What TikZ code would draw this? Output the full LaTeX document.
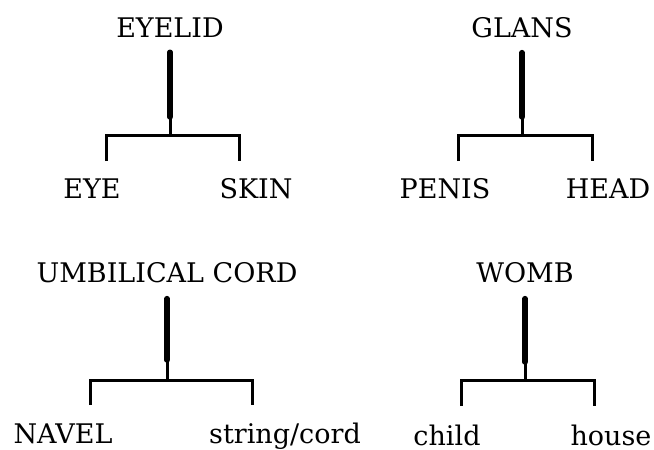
\documentclass[tikz,border=0pt]{standalone}
\usepackage{fontspec}
\setmainfont{DejaVu Serif}

\begin{document}
\begin{tikzpicture}[x=1pt, y=-1pt, font=\fontsize{27}{31}\selectfont,
  word/.style={anchor=base, inner sep=0pt},
  stem/.style={line width=5.4pt, line cap=round},
  branch/.style={line width=3pt}]
  \useasboundingbox (0,0) rectangle (654,450);

  % Upper left: EYELID
  \node (eyelid) [word] at (170,37) {EYELID};
  \node (eye) [word] at (92,198) {EYE};
  \node (skin) [word] at (256,198) {SKIN};
  \coordinate (eyelid-knot) at (170,117);
  \coordinate (eyelid-fork) at (170,135);
  \coordinate (eye-end) at (106,161);
  \coordinate (skin-end) at (239,161);
  \draw[stem] ([yshift=-15pt]eyelid.south) -- (eyelid-knot);
  \draw[branch] (eyelid-knot) -- (eyelid-fork);
  \draw[branch] (eye-end) |- (eyelid-fork) -| (skin-end);

  % Upper right: GLANS
  \node (glans) [word] at (522,37) {GLANS};
  \node (penis) [word] at (445,198) {PENIS};
  \node (head) [word] at (608,198) {HEAD};
  \coordinate (glans-knot) at (522,117);
  \coordinate (glans-fork) at (522,135);
  \coordinate (penis-end) at (458,161);
  \coordinate (head-end) at (592,161);
  \draw[stem] ([yshift=-15pt]glans.south) -- (glans-knot);
  \draw[branch] (glans-knot) -- (glans-fork);
  \draw[branch] (penis-end) |- (glans-fork) -| (head-end);

  % Lower left: UMBILICAL CORD
  \node (cord) [word] at (167,282) {UMBILICAL CORD};
  \node (navel) [word] at (63,443) {NAVEL};
  \node (string) [word] at (285,443) {string/cord};
  \coordinate (cord-knot) at (167,360);
  \coordinate (cord-fork) at (167,380);
  \coordinate (navel-end) at (90,405);
  \coordinate (string-end) at (252,405);
  \draw[stem] ([yshift=-16pt]cord.south) -- (cord-knot);
  \draw[branch] (cord-knot) -- (cord-fork);
  \draw[branch] (navel-end) |- (cord-fork) -| (string-end);

  % Lower right: WOMB
  \node (womb) [word] at (525,282) {WOMB};
  \node (child) [word] at (447,445) {child};
  \node (house) [word] at (611,445) {house};
  \coordinate (womb-knot) at (525,362);
  \coordinate (womb-fork) at (525,380);
  \coordinate (child-end) at (461,406);
  \coordinate (house-end) at (594,406);
  \draw[stem] ([yshift=-16pt]womb.south) -- (womb-knot);
  \draw[branch] (womb-knot) -- (womb-fork);
  \draw[branch] (child-end) |- (womb-fork) -| (house-end);
\end{tikzpicture}
\end{document}
